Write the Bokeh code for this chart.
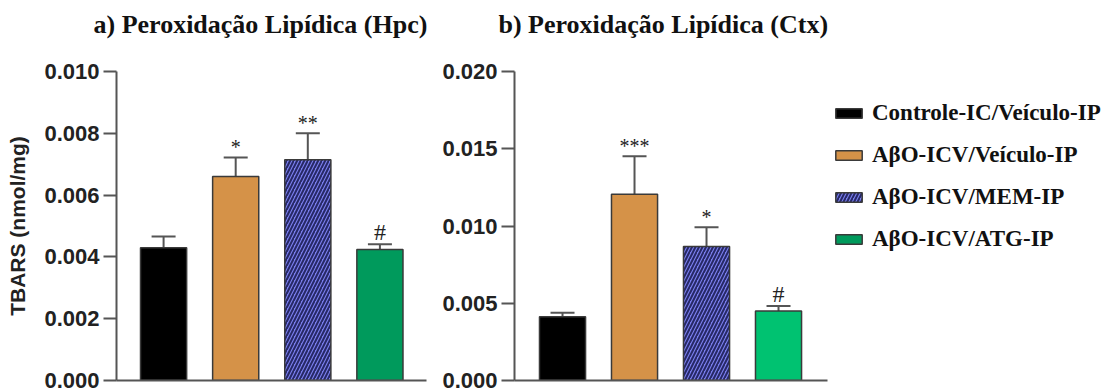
from bokeh.plotting import figure
from bokeh.models import (ColumnDataSource, Range1d, FixedTicker,
                          NumeralTickFormatter, Whisker, TeeHead, Legend, LegendItem)
from bokeh.layouts import row
from bokeh.embed import file_html
from bokeh.resources import INLINE
from bokeh.core.properties import value

# ---------------- data ----------------
groups = ["Controle-IC/Veículo-IP", "AβO-ICV/Veículo-IP", "AβO-ICV/MEM-IP", "AβO-ICV/ATG-IP"]

hpc_mean = [0.00430, 0.00660, 0.00714, 0.00424]
hpc_err = [0.00036, 0.00062, 0.00086, 0.00017]
hpc_sig = ["", "*", "**", "#"]

ctx_mean = [0.00412, 0.01205, 0.00868, 0.00450]
ctx_err = [0.00027, 0.00246, 0.00124, 0.00032]
ctx_sig = ["", "***", "*", "#"]

hpc_ticks = [0.000, 0.002, 0.004, 0.006, 0.008, 0.010]
ctx_ticks = [0.000, 0.005, 0.010, 0.015, 0.020]

title_a = "a)  Peroxidação Lipídica (Hpc)"
title_b = "b)  Peroxidação Lipídica (Ctx)"
y_label = "TBARS (nmol/mg)"

# ---------------- styles ----------------
colors_a = ["#000000", "#D59248", "#7A7EEE", "#009A5C"]
colors_b = ["#000000", "#D59248", "#7A7EEE", "#00C271"]
hatches = [" ", " ", "/", " "]
AXIS = "#555555"
SANS = "Liberation Sans"
SERIF = "Liberation Serif"
BAR_STYLE = dict(width=0.64, line_color="#3a3a3a", line_width=1.5, hatch_pattern="hatch",
                 hatch_color="#262866", hatch_scale=7, hatch_weight=2)


def panel(width, left, right, top, bottom, xr, xbounds, means, errs, sig, colors,
          yend, ticks, title, title_off, ylabel=None):
    src = ColumnDataSource(dict(
        x=list(range(len(groups))), g=groups, top=means,
        upper=[m + e for m, e in zip(means, errs)],
        sig=sig,
        sig_size=["24px" if s == "#" else "20px" for s in sig],
        color=colors, legend_color=colors_a, hatch=hatches,
    ))
    p = figure(width=width, height=391, title=title + "\n\u00a0",
               x_range=Range1d(*xr), y_range=Range1d(0, yend),
               output_backend="svg", toolbar_location=None,
               min_border_left=left, min_border_right=right,
               min_border_top=top, min_border_bottom=bottom)
    p.outline_line_color = None
    p.xgrid.visible = False
    p.ygrid.visible = False
    p.background_fill_color = None
    p.border_fill_color = None

    p.title.align = "left"
    p.title.offset = title_off
    p.title.text_font = SERIF
    p.title.text_font_style = "bold"
    p.title.text_font_size = "26px"
    p.title.text_line_height = 1.0
    p.title.text_color = "#111111"
    p.title.standoff = 8

    r = p.vbar(x="x", top="top", source=src, fill_color="color", **BAR_STYLE)
    w = Whisker(base="x", lower="top", upper="upper", source=src,
                line_color=AXIS, line_width=2,
                upper_head=TeeHead(size=24, line_color=AXIS, line_width=2),
                lower_head=None)
    p.add_layout(w)
    p.text(x="x", y="upper", text="sig", source=src, text_align="center",
           text_baseline="bottom", text_font=value(SERIF), text_font_size="sig_size",
           text_color="#222222", y_offset=1)

    ya = p.yaxis[0]
    ya.ticker = FixedTicker(ticks=ticks)
    ya.formatter = NumeralTickFormatter(format="0.000")
    ya.minor_tick_line_color = None
    ya.major_tick_out = 13
    ya.major_tick_in = 0
    ya.major_tick_line_color = AXIS
    ya.major_tick_line_width = 2
    ya.axis_line_color = AXIS
    ya.axis_line_width = 2
    ya.major_label_standoff = 4
    ya.major_label_text_font = SANS
    ya.major_label_text_font_style = "bold"
    ya.major_label_text_font_size = "22px"
    ya.major_label_text_color = "#222222"
    if ylabel:
        ya.axis_label = ylabel
        ya.axis_label_text_font = SANS
        ya.axis_label_text_font_style = "bold"
        ya.axis_label_text_font_size = "21px"
        ya.axis_label_text_color = "#222222"
        ya.axis_label_standoff = 12

    xa = p.xaxis[0]
    xa.ticker = FixedTicker(ticks=[])
    xa.major_label_text_font_size = "0px"
    xa.major_label_standoff = 0
    xa.major_tick_line_color = None
    xa.minor_tick_line_color = None
    xa.axis_line_color = AXIS
    xa.axis_line_width = 2
    xa.bounds = xbounds
    return p, r, src


p1, r1, s1 = panel(438, 116, 12, 71, 8, (-0.653, 3.646), (-0.653, 3.646),
                   hpc_mean, hpc_err, hpc_sig, colors_a, 0.010, hpc_ticks, title_a, -23,
                   ylabel=y_label)
p2, r2, s2 = panel(672, 76, 0, 69, 11, (-0.667, 7.611), (-0.667, 3.68),
                   ctx_mean, ctx_err, ctx_sig, colors_b, 0.020, ctx_ticks, title_b, -16)

# legend swatches use the Hpc colours (hidden renderer, only feeds the legend)
r_leg = p2.vbar(x="x", top="top", source=s2, fill_color="legend_color", visible=False,
                **BAR_STYLE)

legend = Legend(items=[LegendItem(label=g, renderers=[r_leg], index=i)
                       for i, g in enumerate(groups)],
                location=(318, 127), orientation="vertical",
                glyph_width=33, glyph_height=12, label_standoff=7, label_height=28,
                spacing=14, padding=0, margin=0,
                border_line_color=None, background_fill_alpha=0,
                inactive_fill_alpha=0,
                label_text_font=SERIF, label_text_font_style="bold",
                label_text_font_size="23px", label_text_color="#111111")
p2.add_layout(legend)

layout = row(p1, p2)
open("out.html", "w").write(file_html(layout, INLINE))
